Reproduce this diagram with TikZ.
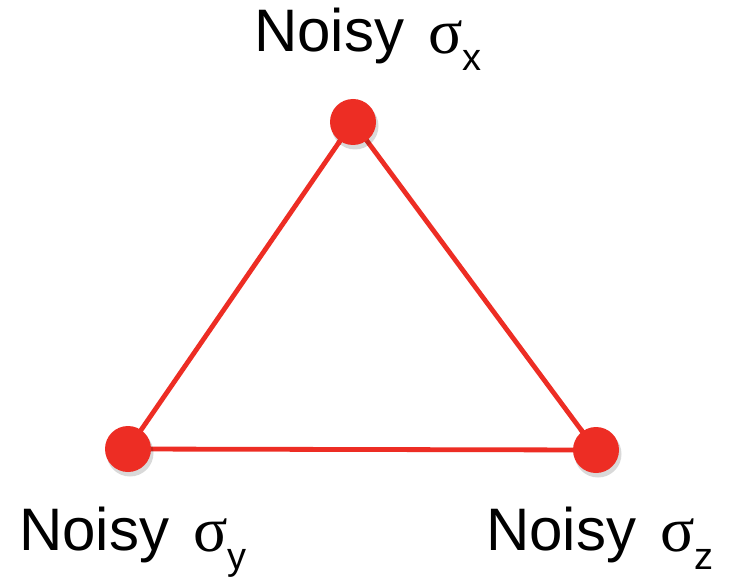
\documentclass[tikz,border=0pt]{standalone}
\usepackage{fontspec}
\setmainfont{Liberation Sans}
\newfontfamily\greekf{Liberation Serif}
\usetikzlibrary{calc}
\definecolor{redc}{RGB}{237,45,36}
\newcommand{\noisylab}[1]{Noisy\hspace{24pt}\raisebox{-1.5pt}{\greekf\fontsize{64}{70}\selectfont σ}\raisebox{-19pt}{\fontsize{38}{40}\selectfont #1}}
\begin{document}
\begin{tikzpicture}[x=1pt,y=-1pt,
  vertex/.style={circle,fill=redc,minimum size=46pt,inner sep=0pt},
  vshadow/.style={circle,fill=black,opacity=0.15,minimum size=47pt,inner sep=0pt},
  edge/.style={draw=redc,line width=4.8pt},
  lab/.style={anchor=base west,inner sep=0pt,font=\fontsize{60}{64}\selectfont}]
\useasboundingbox[fill=white] (0,0) rectangle (735,577);
\coordinate (t) at (353,122);
\coordinate (l) at (128,449);
\coordinate (r) at (596,450);
% edges under the circles
\draw[edge] (t) -- (l);
\draw[edge] (l) -- (r);
\draw[edge] (t) -- (r);
% shadows
\node[vshadow] at ($(t)+(2,4)$) {};
\node[vshadow] at ($(l)+(2,4)$) {};
\node[vshadow] at ($(r)+(2,4)$) {};
% circles
\node[vertex] (vt) at (t) {};
\node[vertex] (vl) at (l) {};
\node[vertex] (vr) at (r) {};
% edge ends lying over the circles
\draw[edge] ($(t)!10pt!(l)$) -- ($(t)!26pt!(l)$);
\draw[edge] ($(r)!-5pt!(t)$) -- ($(r)!26pt!(t)$);
% labels
\node[lab] (lt) at (254,52) {\noisylab{x}};
\node[lab] (ll) at (19,550) {\noisylab{y}};
\node[lab] (lr) at (486,550) {\noisylab{z}};
\end{tikzpicture}
\end{document}
